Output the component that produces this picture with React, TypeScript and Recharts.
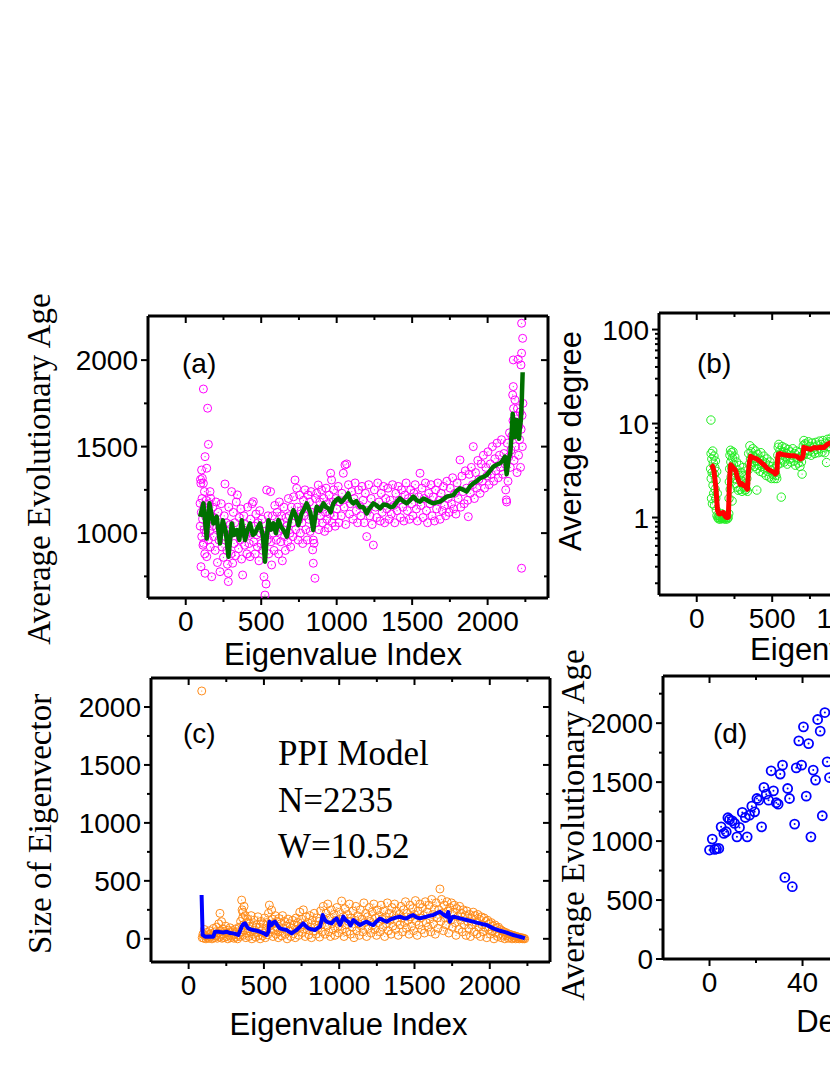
import React from "react";
import { ComposedChart, Scatter, XAxis, YAxis } from "recharts";

const SANS = '"Liberation Sans", Arial, Helvetica, sans-serif';
const SERIF = '"Liberation Serif", "Times New Roman", Times, serif';

// shared eigenvalue-index ticks
const IDX_MAJOR = [0, 500, 1000, 1500, 2000];
const IDX_MINOR = [250, 750, 1250, 1750, 2250];

// (a) average evolutionary age vs eigenvalue index
const AGE_MAJOR = [1000, 1500, 2000];
const AGE_MINOR = [750, 1250, 1750];
const aAge: [number, number][] = [
  [95,1172],[96,1040],[98,1310],[100,1288],[101,806],[103,1120],[105,1365],[106,980],[108,1200],[110,1317],
  [112,1080],[114,930],[117,1833],[117,1288],[118,941],[120,1150],[122,1020],[124,1240],[126,880],[128,1442],
  [128,768],[130,1100],[133,1000],[136,1190],[139,1375],[139,864],[142,1050],[145,1722],[147,1130],[150,1513],
  [150,960],[153,1080],[156,1170],[158,1010],[161,1240],[163,920],[165,1201],[168,1100],[172,748],[175,1040],
  [180,1150],[185,980],[190,1090],[195,900],[200,1180],[205,1030],[210,830],[215,1120],[220,960],[227,777],
  [230,1060],[235,1170],[240,920],[245,1010],[250,860],[255,1100],[260,1284],[263,980],[268,1060],[272,900],
  [276,820],[282,768],[282,720],[285,1150],[290,990],[295,1050],[300,880],[304,1240],[308,1000],[311,826],
  [315,1120],[320,940],[325,1060],[330,870],[335,1180],[342,1221],[345,1000],[350,910],[355,1090],[360,960],
  [365,1140],[370,850],[377,758],[380,1020],[385,1100],[390,930],[395,1050],[400,990],[405,880],[410,1150],
  [415,1010],[420,940],[426,864],[430,1080],[435,1000],[440,1170],[448,1182],[450,950],[455,1040],[460,880],
  [465,1110],[470,990],[475,920],[480,1060],[485,840],[490,1130],[495,1000],[500,940],[505,1080],[510,900],
  [518,748],[520,1010],[525,642],[532,706],[536,1249],[540,960],[545,1100],[550,880],[555,1030],[562,1240],
  [565,950],[569,816],[575,1100],[580,1000],[585,900],[590,1160],[595,1050],
  [600,960],[605,1120],[610,1010],[615,880],[620,1180],[625,1060],[630,950],[635,1100],[640,840],[645,1020],
  [650,1150],[655,980],[660,900],[665,1090],[670,1040],[675,950],[680,1200],[685,1100],[690,1000],[695,920],
  [700,1150],[705,1060],[710,980],[715,1210],[720,1100],[724,1307],[728,1020],[735,1259],[740,1150],[745,960],
  [750,1080],[755,1220],[760,1000],[765,1130],[770,1060],[775,940],[780,1190],[785,1100],[790,1250],[795,1020],
  [800,1150],[805,960],[810,1220],[815,1080],[820,1180],[825,1010],[830,1240],[835,1120],[841,903],[845,960],
  [845,826],[850,941],[856,739],[860,1200],[863,1060],[867,1230],[872,1130],[878,1278],[882,1020],[888,1180],
  [894,1100],[900,1250],[905,1060],[910,1150],[915,1200],[920,1010],[925,1120],[930,1260],[935,1080],[940,1170],
  [945,1030],[950,1220],[955,1110],[960,1346],[966,1307],[970,1060],[975,1180],[980,1250],[985,1100],[990,1040],
  [995,1200],
  [1000,1140],[1010,1270],[1015,1060],[1020,1180],[1030,1100],[1035,1230],[1044,1346],[1050,1150],[1055,1394],[1060,1050],
  [1066,1400],[1070,1200],[1078,1280],[1085,1110],[1090,1170],[1100,1240],[1108,1080],[1115,1200],[1122,1290],[1130,1130],
  [1138,1060],[1145,1250],[1152,1160],[1160,1100],[1168,1270],[1175,1190],[1182,1060],[1190,1230],[1199,980],[1205,1130],
  [1212,1280],[1220,1100],[1228,1200],[1235,1050],[1243,931],[1250,1250],[1258,1150],[1265,1090],[1272,1290],[1280,1180],
  [1288,1070],[1295,1230],[1302,1120],[1310,1270],[1318,1060],[1325,1200],[1332,1140],[1340,1260],[1348,1080],[1355,1190],
  [1362,1110],[1370,1280],[1378,1160],[1385,1060],[1392,1230],[1400,1130],[1408,1270],[1415,1190],[1422,1090],[1430,1250],
  [1438,1150],[1445,1070],[1452,1220],[1460,1290],[1468,1130],[1475,1200],[1482,1080],[1490,1250],[1498,1170],
  [1505,1100],[1512,1230],[1520,1280],[1528,1140],[1535,1070],[1542,1210],[1552,1346],[1558,1160],[1565,1260],[1572,1090],
  [1580,1200],[1588,1290],[1595,1130],[1602,1060],[1610,1230],[1618,1170],[1625,1280],[1632,1100],[1640,1210],[1648,1070],
  [1655,1250],[1662,1140],[1670,1290],[1678,1190],[1685,1080],[1692,1230],[1700,1130],[1708,1270],[1715,1160],[1722,1100],
  [1730,1300],[1738,1200],[1745,1120],[1752,1260],[1760,1170],[1768,1320],[1775,1140],[1782,1230],[1790,1110],[1798,1290],
  [1805,1200],[1817,1423],[1822,1150],[1830,1330],[1838,1240],[1845,1170],[1852,1360],[1860,1260],[1868,1190],[1872,1095],
  [1878,1340],[1885,1230],[1892,1380],[1900,1280],[1905,1500],[1912,1200],[1920,1350],[1928,1260],[1935,1420],[1942,1310],
  [1950,1230],[1958,1400],[1965,1300],[1972,1450],[1980,1260],[1988,1380],[1995,1330],
  [2002,1470],[2010,1280],[2018,1400],[2025,1340],[2032,1500],[2040,1300],[2048,1430],[2055,1360],[2062,1520],[2070,1320],
  [2078,1450],[2085,1380],[2092,1540],[2100,1340],[2108,1460],[2115,1400],[2120,1250],[2124,1192],[2126,1180],[2130,1520],
  [2135,1300],[2140,1440],[2145,1580],[2150,1380],[2155,1480],[2160,1560],[2166,1799],[2168,1650],[2170,1847],[2170,2001],
  [2172,1720],[2175,1420],[2178,1620],[2181,1770],[2185,1500],[2188,1680],[2192,1580],[2195,1350],[2198,1720],[2203,2005],
  [2205,1450],[2208,1620],[2212,1540],[2215,1700],[2218,1380],[2221,1972],[2222,1600],[2225,2213],[2225,2040],[2225,797],
  [2228,1680],[2230,1500],[2232,2126],[2234,1750],
];
const aAgeAvg: [number, number][] = [
  [95,1095],[117,1172],[139,969],[157,1172],[183,1056],[205,1095],[227,940],[245,1075],[265,1010],[283,863],
  [305,1056],[320,990],[338,1018],[355,960],[371,1075],[393,960],[410,1020],[426,1056],[445,990],[459,998],
  [475,1030],[492,1056],[510,990],[525,835],[535,960],[548,1075],[565,1020],[581,1056],[598,1000],[614,1075],
  [630,1040],[647,1018],[670,980],[691,1075],[713,1133],[730,1100],[746,1046],[768,1114],[785,1140],[801,1172],
  [825,1120],[845,1018],[868,1153],[890,1130],[912,1172],[930,1150],[945,1143],[960,1120],[978,1172],[995,1190],
  [1011,1201],[1030,1180],[1044,1191],[1066,1215],[1077,1230],[1090,1190],[1110,1172],[1130,1185],[1154,1153],[1177,1150],
  [1199,1114],[1215,1140],[1243,1172],[1265,1160],[1287,1143],[1310,1165],[1331,1163],[1355,1150],[1375,1153],[1398,1180],
  [1419,1201],[1440,1185],[1464,1172],[1486,1190],[1508,1211],[1530,1190],[1552,1182],[1574,1200],[1596,1192],[1618,1180],
  [1640,1172],[1662,1178],[1684,1182],[1706,1195],[1729,1211],[1750,1215],[1773,1220],[1795,1245],[1817,1259],[1840,1250],
  [1861,1240],[1883,1270],[1905,1288],[1927,1300],[1949,1317],[1972,1325],[1994,1336],[2016,1360],[2038,1384],[2060,1395],
  [2082,1404],[2100,1420],[2115,1442],[2126,1340],[2140,1430],[2150,1460],[2160,1590],[2166,1690],[2174,1600],[2181,1555],
  [2187,1620],[2192,1654],[2200,1580],[2208,1545],[2214,1616],[2220,1650],[2226,1760],[2232,1930],
];

// (b) average degree (log axis)
const DEG_MAJOR = [1, 10, 100];
const DEG_MINOR = [0.2, 0.3, 0.4, 0.5, 0.6, 0.7, 0.8, 0.9, 2, 3, 4, 5, 6, 7, 8, 9, 20, 30, 40, 50, 60, 70, 80, 90];
const bDeg: [number, number][] = [
  [94,10.9],[92,3.3],[95,4.8],[96,2.6],[98,1.6],[100,4.2],[102,3.0],[104,1.4],[106,5.1],[108,2.2],
  [110,3.8],[112,1.8],[114,4.5],[116,2.9],[118,1.35],[120,3.4],[122,2.0],[124,4.0],[126,1.6],[128,2.5],
  [130,1.2],[132,3.1],[134,1.05],[136,1.8],[140,1.0],[144,0.97],[148,1.05],[152,1.0],[156,0.96],[160,1.02],
  [164,1.1],[168,0.98],[172,1.0],[176,1.05],[180,0.97],[184,1.0],[188,1.03],[192,0.96],[196,1.0],[200,1.05],
  [204,0.97],[208,1.0],[212,1.1],[214,1.6],[216,2.4],[218,3.3],[220,4.6],[222,2.0],[224,5.2],[226,3.9],
  [228,2.7],[230,4.9],[232,3.4],[234,1.5],[236,4.3],[238,2.9],[240,5.0],[244,3.7],[248,2.6],[252,4.4],
  [256,3.0],[260,2.3],[264,3.9],[268,2.1],[272,3.2],[276,1.95],[280,2.8],[284,3.6],[288,2.0],[292,2.5],
  [296,3.0],[300,1.9],[304,2.4],[308,3.4],[312,2.1],[316,2.7],[320,1.95],[324,2.3],[328,2.0],[332,2.6],
  [336,1.9],[340,3.2],[344,4.8],[348,3.7],[352,5.8],[356,4.2],[360,5.0],[364,3.6],[368,4.6],[372,5.4],
  [376,3.9],[380,4.4],[385,3.5],[390,5.1],[395,4.0],[398,1.96],[400,3.3],[405,4.7],[410,3.6],[415,4.2],
  [420,3.1],[425,4.9],[430,3.5],[435,4.0],[440,3.0],[445,4.5],[450,3.3],[455,3.8],[460,2.8],[465,4.2],
  [470,3.1],[475,3.6],[480,2.7],[485,3.9],[490,3.2],[495,2.6],[500,3.5],[505,2.9],[510,3.3],[515,2.6],
  [520,3.0],[525,2.8],[530,2.6],[534,3.6],[537,4.6],[540,5.6],[544,6.0],[548,4.2],[552,5.2],[556,3.8],
  [560,1.65],[562,4.9],[566,5.7],[570,4.1],[575,5.0],[580,3.9],[585,5.5],[590,4.4],[595,4.8],[600,3.7],
  [606,5.3],[612,4.2],[618,5.0],[624,3.9],[630,4.6],[636,5.4],[642,4.0],[648,4.8],[654,3.6],[660,5.1],
  [666,4.3],[672,3.8],[678,4.9],[684,3.5],[690,4.4],[694,3.9],[698,2.9],[702,4.6],[706,5.8],[710,6.6],
  [714,4.8],[718,6.1],[722,5.2],[728,5.9],[734,4.7],[740,6.4],[746,5.1],[752,5.7],[758,4.6],[764,6.2],
  [770,5.0],[776,5.6],[782,4.8],[788,6.3],[794,5.3],[800,5.9],[806,4.9],[812,6.5],[818,5.4],[824,6.0],
  [830,5.0],[836,6.6],[842,5.6],[848,4.9],[854,6.2],[860,3.85],[866,6.8],[872,5.7],[878,6.4],[884,5.5],
  [890,7.0],[896,6.1],[902,6.6],[910,5.8],[920,7.1],[930,6.3],
];
const bDegAvg: [number, number][] = [
  [94,3.64],[105,3.5],[114,3.14],[120,2.6],[127,2.09],[133,1.5],[138,1.19],[146,1.1],[154,1.09],[165,1.12],
  [176,1.13],[185,1.05],[194,1.01],[202,1.0],[209,1.01],[213,1.5],[216,2.09],[220,3.0],[225,3.64],[235,3.5],
  [243,3.35],[252,3.25],[260,3.1],[268,2.7],[276,2.5],[287,2.25],[298,2.3],[310,2.2],[320,2.15],[330,2.05],
  [336,2.0],[342,3.0],[349,3.9],[357,4.5],[365,4.4],[380,4.3],[398,4.2],[415,4.0],[431,3.8],[448,3.6],
  [465,3.35],[482,3.2],[498,3.1],[510,3.05],[520,2.9],[531,3.0],[536,4.2],[540,4.7],[552,4.8],[565,4.7],
  [580,4.65],[598,4.6],[620,4.55],[642,4.55],[665,4.45],[687,4.2],[698,4.3],[705,4.6],[709,5.6],[720,5.5],
  [736,5.4],[753,5.3],[776,5.55],[798,5.5],[820,5.6],[842,5.55],[865,6.0],[880,6.2],[900,6.3],[920,6.4],
];

// (c) size of eigenvector
const SIZE_MAJOR = [0, 500, 1000, 1500, 2000];
const SIZE_MINOR = [250, 750, 1250, 1750];
const cSize: [number, number][] = [
  [87,2138],[90,10],[95,40],[100,5],[105,80],[110,25],[115,0],[120,55],[125,15],[130,35],[135,5],[140,70],
  [145,20],[150,45],[155,0],[160,30],[165,90],[170,10],[175,60],[180,25],[185,100],[190,5],[195,50],[200,130],
  [205,15],[208,220],[212,70],[216,30],[219,148],[222,5],[226,85],[230,40],[235,10],[240,65],[245,110],[250,20],
  [255,50],[260,0],[265,75],[270,30],[275,95],[280,10],[285,55],[290,25],[295,70],[300,5],[305,40],[310,85],
  [315,15],[320,60],[325,0],[330,35],[335,100],[340,20],
  [345,150],[348,60],[352,334],[355,250],[358,180],[360,230],[362,30],[365,120],[368,280],[372,75],[376,200],
  [380,10],[384,140],[388,50],[392,170],[396,90],[400,20],[405,130],[410,60],[415,200],[420,0],[425,110],
  [430,40],[435,160],[440,75],[445,15],[450,120],[455,55],[460,190],[465,30],[470,100],[475,0],[480,150],
  [485,70],[490,25],[495,130],[500,50],[505,180],[510,10],[515,90],[520,140],[525,35],[530,220],[536,291],
  [540,110],[545,60],[551,248],[555,170],[560,20],[565,130],[570,75],[575,200],[580,40],[585,150],[590,95],
  [595,10],[600,175],[606,60],[612,130],[618,25],[624,200],[630,90],[636,150],[642,40],[648,110],[654,0],
  [660,170],[666,70],[672,130],[678,20],[684,90],[690,160],[696,45],[702,120],[708,10],[714,180],[720,80],
  [726,140],[732,30],[738,230],[744,100],[750,170],[756,55],[762,250],[768,120],[774,20],[780,190],[786,80],
  [792,140],[798,35],[804,200],[810,100],[816,10],[822,160],[828,65],[834,220],[840,120],[846,40],[852,180],
  [858,90],[864,150],[870,15],[876,240],[882,120],[888,60],[894,280],[900,170],
  [906,40],[912,220],[918,110],[924,300],[930,60],[936,180],[942,20],[948,250],[954,130],[960,80],[966,210],
  [972,30],[978,160],[984,270],[990,100],[996,50],[1002,230],[1008,140],[1016,326],[1020,80],[1026,190],[1032,20],
  [1038,260],[1044,120],[1050,60],[1056,210],[1062,150],[1068,300],[1074,40],[1080,180],[1086,100],[1092,240],
  [1098,10],[1104,160],[1110,280],[1116,70],[1122,200],[1128,130],[1134,30],[1140,250],[1146,110],[1152,170],
  [1158,60],[1164,310],[1170,140],[1176,220],[1182,20],[1188,190],[1194,90],[1200,270],[1206,150],[1212,50],
  [1218,230],[1224,120],[1230,300],[1236,80],[1242,180],[1248,30],[1254,250],[1260,140],[1266,200],[1272,60],
  [1278,290],[1284,170],[1290,100],[1296,240],[1302,20],[1308,190],[1314,130],[1320,310],[1326,70],[1332,220],
  [1338,160],[1344,40],[1350,270],[1356,110],[1362,200],[1368,300],[1374,80],[1380,240],[1386,150],[1392,30],
  [1398,210],
  [1404,120],[1410,280],[1416,180],[1422,60],[1428,250],[1434,140],[1440,320],[1446,90],[1452,220],[1458,160],
  [1464,40],[1470,290],[1476,190],[1482,110],[1488,260],[1494,70],[1500,210],[1506,330],[1512,150],[1518,30],
  [1524,240],[1530,120],[1536,300],[1542,180],[1548,80],[1554,270],[1560,200],[1566,50],[1572,320],[1578,140],
  [1584,230],[1590,100],[1596,290],[1602,170],[1608,60],[1614,340],[1620,210],[1626,130],[1632,260],[1638,40],
  [1644,310],[1650,180],[1656,90],[1662,250],[1669,430],[1674,150],[1680,340],[1686,220],[1692,70],[1698,290],
  [1704,180],[1710,120],[1716,320],[1722,240],[1728,50],[1734,270],[1740,160],[1746,310],[1752,100],[1758,230],
  [1764,290],[1770,140],[1776,30],[1782,260],[1788,190],[1794,80],[1800,280],[1806,160],[1812,220],[1818,60],
  [1824,250],[1830,120],[1836,200],[1842,30],[1848,240],[1854,150],[1860,90],[1866,210],[1872,20],[1878,180],
  [1884,120],[1890,230],[1896,60],
  [1902,200],[1908,140],[1914,40],[1920,210],[1926,100],[1932,170],[1938,20],[1944,190],[1950,120],[1956,60],
  [1962,180],[1968,100],[1974,150],[1980,10],[1986,160],[1992,80],[1998,130],[2004,40],[2010,140],[2016,70],
  [2022,110],[2028,0],[2034,120],[2040,50],[2046,95],[2052,20],[2058,100],[2064,40],[2070,80],[2076,10],
  [2082,70],[2088,30],[2094,60],[2100,0],[2106,55],[2112,25],[2118,45],[2124,5],[2130,40],[2136,15],
  [2142,35],[2148,0],[2154,30],[2160,10],[2166,25],[2172,0],[2178,20],[2184,5],[2190,15],[2196,0],
  [2202,12],[2208,3],[2214,8],[2220,0],[2226,5],[2232,0],
];
const cSizeAvg: [number, number][] = [
  [86,378],[93,33],[109,18],[140,20],[164,18],[175,61],[200,60],[230,55],[252,61],[275,50],
  [297,47],[315,40],[330,33],[345,80],[352,105],[362,125],[374,133],[385,110],[396,90],[412,82],
  [429,76],[452,70],[474,61],[496,50],[518,33],[530,60],[536,148],[544,130],[551,119],[562,140],
  [573,148],[590,115],[606,90],[628,82],[651,76],[668,60],[684,47],[700,62],[717,76],[740,105],
  [761,133],[778,110],[795,90],[817,82],[839,76],[856,92],[872,105],[882,150],[890,205],[902,170],
  [916,148],[932,140],[949,133],[966,160],[983,176],[994,150],[1005,119],[1016,150],[1027,191],[1044,160],
  [1060,148],[1075,115],[1094,162],[1116,140],[1138,119],[1160,135],[1182,148],[1204,130],[1226,119],[1248,150],
  [1271,176],[1293,160],[1315,148],[1337,165],[1359,176],[1381,185],[1403,191],[1425,180],[1448,176],[1470,195],
  [1492,205],[1514,185],[1536,176],[1558,185],[1580,191],[1603,200],[1625,205],[1647,220],[1669,234],[1691,210],
  [1713,191],[1724,230],[1735,148],[1746,175],[1757,191],[1780,185],[1802,176],[1824,170],[1846,162],[1868,155],
  [1890,148],[1912,140],[1934,133],[1956,125],[1979,119],[2001,105],[2023,90],[2045,80],[2067,70],[2090,62],
  [2112,53],[2134,42],[2156,33],[2178,25],[2200,18],[2220,10],[2233,4],
];

// (d) average evolutionary age vs degree
const DEGX_MAJOR = [0, 40, 80, 120];
const DEGX_MINOR = [20, 60, 100, 140];
const DAGE_MAJOR = [0, 500, 1000, 1500, 2000];
const DAGE_MINOR = [250, 750, 1250, 1750, 2250];
const dAge: [number, number][] = [
  [0,924],[1.2,1017],[2.2,929],[3,935],[4,938],[5,1121],[6.2,1065],[7.2,1079],[7.9,1198],[8.6,1183],
  [9.8,1172],[10.8,1150],[11.8,1036],[12.9,1116],[14.1,1243],[15.4,1200],[16.2,1036],[17.2,1220],[18.2,1296],[19.4,1248],
  [20.4,1361],[21.2,1347],[22.4,1121],[23.4,1455],[24.4,1398],[25.4,1347],[26.5,1596],[27.5,1426],[28.7,1325],[29.5,1313],
  [30.4,1568],[31.4,1644],[32.4,692],[33.6,1446],[34.4,1361],[35.6,613],[36.6,1144],[37.3,1621],[38.4,1850],[39.6,1644],
  [40.4,1969],[41.6,1381],[42.6,1827],[43.6,1036],[44.6,1602],[45.6,1517],[46.5,2031],[47.6,1932],[48.5,1215],[49.6,2090],
  [50.6,1672],[51.6,1539],
];

const pts = (arr: [number, number][]) => arr.map(([x, y]) => ({ x, y }));

const ring = (color: string, r: number, sw: number, dot: number) => (props: any) => (
  <g>
    <circle cx={props.cx} cy={props.cy} r={r} fill="none" stroke={color} strokeWidth={sw} />
    <circle cx={props.cx} cy={props.cy} r={dot} fill={color} />
  </g>
);
const noMark = () => <g />;

type Side = "left" | "right" | "top" | "bottom";

function makeTick(side: Side, majors: number[], labelled: boolean) {
  return (props: any) => {
    const { x, y, payload } = props;
    const v = payload.value;
    const major = majors.includes(v);
    const len = major ? 7 : 4;
    let mark;
    let text = null;
    if (side === "bottom") {
      mark = <line x1={x} y1={y} x2={x} y2={y + len} stroke="#000" strokeWidth={2} />;
      if (major && labelled)
        text = <text x={x} y={y + 33} textAnchor="middle" fontFamily={SANS} fontSize={28} fill="#000">{v}</text>;
    } else if (side === "top") {
      mark = <line x1={x} y1={y} x2={x} y2={y + len} stroke="#000" strokeWidth={2} />;
    } else if (side === "left") {
      mark = <line x1={x} y1={y} x2={x - len} y2={y} stroke="#000" strokeWidth={2} />;
      if (major && labelled)
        text = <text x={x - 10} y={y + 10} textAnchor="end" fontFamily={SANS} fontSize={28} fill="#000">{v}</text>;
    } else {
      mark = <line x1={x} y1={y} x2={x - len} y2={y} stroke="#000" strokeWidth={2} />;
    }
    return <g>{mark}{text}</g>;
  };
}

type Note = { text: string; x: number; y: number; font: string; size: number };

type PanelProps = {
  plotLeft: number; plotTop: number; plotW: number; plotH: number; padL: number;
  xDomain: [number, number]; xMajor: number[]; xMinor: number[];
  yDomain: [number, number]; yMajor: number[]; yMinor: number[]; yLog?: boolean;
  xTitle: string; xTitleDx: number; xTitleDy: number;
  yTitle: string; yTitleFont: string; yTitleSize: number; yTitleX: number; yTitleY: number;
  notes: Note[];
  children: React.ReactNode;
};

const AXIS = { stroke: "#000", strokeWidth: 3 };

function Panel(p: PanelProps) {
  const padT = 50, padR = 20, padB = 90;
  const W = p.padL + p.plotW + padR;
  const H = padT + p.plotH + padB;
  const L = p.padL, T = padT, B = padT + p.plotH;
  const xTicks = [...p.xMajor, ...p.xMinor].sort((a, b) => a - b);
  const yTicks = [...p.yMajor, ...p.yMinor].sort((a, b) => a - b);
  const scale = p.yLog ? "log" : "linear";
  const common = { tickSize: 0, tickMargin: 0, tickLine: false, axisLine: AXIS, interval: 0 as const, allowDataOverflow: true };
  return (
    <div style={{ position: "absolute", left: p.plotLeft - p.padL, top: p.plotTop - padT }}>
      <ComposedChart width={W} height={H} margin={{ top: 0, right: 0, bottom: 0, left: 0 }}>
        <XAxis
          xAxisId="b" dataKey="x" type="number" orientation="bottom" height={padB}
          domain={p.xDomain} ticks={xTicks} tick={makeTick("bottom", p.xMajor, true)} {...common}
          label={() => (
            <text x={L + p.plotW / 2 + p.xTitleDx} y={B + p.xTitleDy} textAnchor="middle"
              fontFamily={SANS} fontSize={31} fill="#000">{p.xTitle}</text>
          )}
        />
        <XAxis
          xAxisId="t" dataKey="x" type="number" orientation="top" height={padT}
          domain={p.xDomain} ticks={xTicks} tick={makeTick("top", p.xMajor, false)} {...common}
          label={() => (
            <g>
              {p.notes.map((n) => (
                <text key={n.text} x={L + n.x} y={T + n.y} fontFamily={n.font} fontSize={n.size} fill="#000">{n.text}</text>
              ))}
            </g>
          )}
        />
        <YAxis
          yAxisId="l" dataKey="y" type="number" scale={scale} width={p.padL}
          domain={p.yDomain} ticks={yTicks} tick={makeTick("left", p.yMajor, true)} {...common}
          label={() => (
            <text x={L + p.yTitleX} y={T + p.yTitleY} textAnchor="middle"
              transform={`rotate(-90, ${L + p.yTitleX}, ${T + p.yTitleY})`}
              fontFamily={p.yTitleFont} fontSize={p.yTitleSize} fill="#000">{p.yTitle}</text>
          )}
        />
        <YAxis
          yAxisId="r" dataKey="y" type="number" scale={scale} orientation="right" width={padR}
          domain={p.yDomain} ticks={yTicks} tick={makeTick("right", p.yMajor, false)} {...common}
        />
        {p.children}
      </ComposedChart>
    </div>
  );
}

export default function App() {
  return (
    <div style={{ position: "absolute", left: 0, top: 0, width: 830, height: 1075, overflow: "hidden", background: "#fff" }}>
      <Panel
        plotLeft={148} plotTop={316} plotW={400} plotH={282} padL={148}
        xDomain={[-250, 2400]} xMajor={IDX_MAJOR} xMinor={IDX_MINOR}
        yDomain={[625, 2255]} yMajor={AGE_MAJOR} yMinor={AGE_MINOR}
        xTitle="Eigenvalue Index" xTitleDx={-5} xTitleDy={67}
        yTitle="Average Evolutionary Age" yTitleFont={SERIF} yTitleSize={33} yTitleX={-98} yTitleY={153}
        notes={[{ text: "(a)", x: 34, y: 57, font: SANS, size: 28 }]}
      >
        <Scatter xAxisId="b" yAxisId="l" data={pts(aAge)} shape={ring("#ff00ff", 4, 1, 0.6)} isAnimationActive={false} />
        <Scatter xAxisId="b" yAxisId="l" data={pts(aAgeAvg)} shape={noMark} lineJointType="linear"
          line={{ stroke: "#007000", strokeWidth: 4.5, strokeLinejoin: "round" }} isAnimationActive={false} />
      </Panel>

      <Panel
        plotLeft={659} plotTop={313} plotW={400} plotH={282} padL={239}
        xDomain={[-250, 2400]} xMajor={IDX_MAJOR} xMinor={IDX_MINOR}
        yDomain={[0.15, 150]} yMajor={DEG_MAJOR} yMinor={DEG_MINOR} yLog
        xTitle="Eigenvalue Index" xTitleDx={10} xTitleDy={65}
        yTitle="Average degree" yTitleFont={SANS} yTitleSize={31} yTitleX={-78} yTitleY={128}
        notes={[{ text: "(b)", x: 38, y: 60, font: SANS, size: 28 }]}
      >
        <Scatter xAxisId="b" yAxisId="l" data={pts(bDeg)} shape={ring("#22ee22", 4.2, 1, 0.6)} isAnimationActive={false} />
        <Scatter xAxisId="b" yAxisId="l" data={pts(bDegAvg)} shape={noMark} lineJointType="linear"
          line={{ stroke: "#ff0000", strokeWidth: 5, strokeLinejoin: "round" }} isAnimationActive={false} />
      </Panel>

      <Panel
        plotLeft={151} plotTop={678} plotW={399} plotH={284} padL={151}
        xDomain={[-250, 2400]} xMajor={IDX_MAJOR} xMinor={IDX_MINOR}
        yDomain={[-200, 2250]} yMajor={SIZE_MAJOR} yMinor={SIZE_MINOR}
        xTitle="Eigenvalue Index" xTitleDx={-2} xTitleDy={73}
        yTitle="Size of Eigenvector" yTitleFont={SERIF} yTitleSize={33} yTitleX={-100} yTitleY={146}
        notes={[
          { text: "(c)", x: 32, y: 65, font: SANS, size: 28 },
          { text: "PPI Model", x: 127, y: 87, font: SERIF, size: 35 },
          { text: "N=2235", x: 127, y: 134, font: SERIF, size: 35 },
          { text: "W=10.52", x: 127, y: 180, font: SERIF, size: 35 },
        ]}
      >
        <Scatter xAxisId="b" yAxisId="l" data={pts(cSize)} shape={ring("#ff8c1a", 4, 1, 0.6)} isAnimationActive={false} />
        <Scatter xAxisId="b" yAxisId="l" data={pts(cSizeAvg)} shape={noMark} lineJointType="linear"
          line={{ stroke: "#0000ff", strokeWidth: 4, strokeLinejoin: "round" }} isAnimationActive={false} />
      </Panel>

      <Panel
        plotLeft={663} plotTop={676} plotW={400} plotH={283} padL={243}
        xDomain={[-20, 152]} xMajor={DEGX_MAJOR} xMinor={DEGX_MINOR}
        yDomain={[0, 2400]} yMajor={DAGE_MAJOR} yMinor={DAGE_MINOR}
        xTitle="Degree" xTitleDx={-16} xTitleDy={73}
        yTitle="Average Evolutionary Age" yTitleFont={SERIF} yTitleSize={33} yTitleX={-79} yTitleY={149}
        notes={[{ text: "(d)", x: 50, y: 67, font: SANS, size: 28 }]}
      >
        <Scatter xAxisId="b" yAxisId="l" data={pts(dAge)} shape={ring("#0000ff", 4.5, 1.8, 1)} isAnimationActive={false} />
      </Panel>
    </div>
  );
}
